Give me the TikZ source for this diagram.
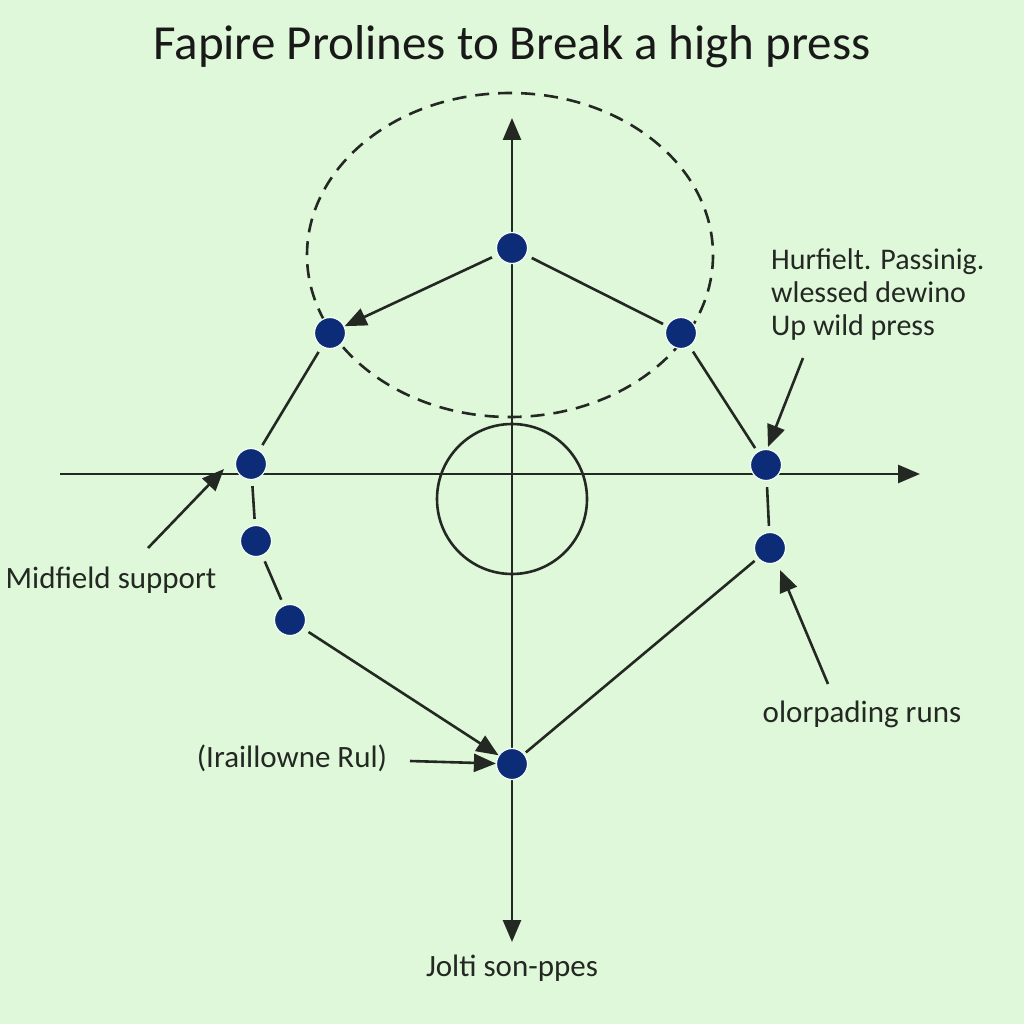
\documentclass[tikz,border=0pt]{standalone}
\usepackage{fontspec}
\setmainfont{Carlito}
\usetikzlibrary{arrows.meta}
\definecolor{bg}{HTML}{E0F8DA}
\definecolor{ink}{HTML}{232823}
\definecolor{dotblue}{HTML}{0C2C78}
\tikzset{
  dot/.style={circle,fill=dotblue,draw=white!70!bg,line width=1.2pt,minimum size=31pt,inner sep=0pt},
  ln/.style={draw=ink,line width=2.6pt},
  arr/.style={ln,-{Triangle[length=22pt,width=18pt]}},
  lbl/.style={text=ink,font=\fontsize{31}{34}\selectfont,inner sep=0pt},
}
\begin{document}
\begin{tikzpicture}[x=1pt,y=-1pt]
\useasboundingbox (0,0) rectangle (1024,1024);
\fill[bg] (0,0) rectangle (1024,1024);
% title
\node[text=black!90,font=\fontsize{49}{54}\selectfont,inner sep=0pt] (title) at (512,47) {Fapire Prolines to Break a high press};
% dashed ellipse and circle
\draw[ln,dash pattern=on 14pt off 9pt] (510,255) ellipse [x radius=203,y radius=162];
\draw[ln] (512,499) circle [radius=75];
% axes
\coordinate (vbot) at (512,942);
\coordinate (vtop) at (512,118);
\coordinate (hl) at (60,474);
\coordinate (hr) at (920,474);
\draw[arr] (512,500) -- (vtop);
\draw[arr] (512,500) -- (vbot);
\draw[arr] (hl) -- (hr);
% dots
\node[dot] (A) at (512,248) {};
\node[dot] (B) at (330,333) {};
\node[dot] (C) at (681,333) {};
\node[dot] (D) at (251,464) {};
\node[dot] (E) at (766,465) {};
\node[dot] (F) at (256,541) {};
\node[dot] (G) at (770,548) {};
\node[dot] (H) at (290,620) {};
\node[dot] (I) at (512,764) {};
% connectors
\draw[arr,shorten <=6pt] (A) -- (B);
\draw[ln,shorten <=6pt,shorten >=4pt] (A) -- (C);
\draw[ln,shorten <=6pt,shorten >=6pt] (B) -- (D);
\draw[ln,shorten <=6pt,shorten >=4pt] (C) -- (E);
\draw[ln,shorten <=6pt,shorten >=6pt] (D) -- (F);
\draw[ln,shorten <=6pt,shorten >=6pt] (F) -- (H);
\draw[arr,shorten <=6pt] (H) -- (I);
\draw[ln,shorten <=2pt,shorten >=4pt] (I) -- (G);
\draw[ln,shorten <=6pt,shorten >=6pt] (E) -- (G);
% labels
\node[lbl] (l1) at (111,580) {Midfield support};
\coordinate (a1s) at (148,548);
\coordinate (a1e) at (224,469);
\draw[arr] (a1s) -- (a1e);
\node[lbl,align=left,anchor=north west,font=\fontsize{30}{33}\selectfont] (l2) at (771,248) {Hurfielt. Passinig.\\wlessed dewino\\Up wild press};
\coordinate (a2s) at (803,358);
\coordinate (a2e) at (768,447);
\draw[arr] (a2s) -- (a2e);
\node[lbl] (l3) at (862,714) {olorpading runs};
\coordinate (a3s) at (828,684);
\coordinate (a3e) at (780,570);
\draw[arr] (a3s) -- (a3e);
\node[lbl] (l4) at (292,758) {(Iraillowne Rul)};
\coordinate (a4s) at (410,761);
\draw[arr] (a4s) -- (I);
\node[lbl] (l5) at (512,968) {Jolti son-ppes};
\end{tikzpicture}
\end{document}
